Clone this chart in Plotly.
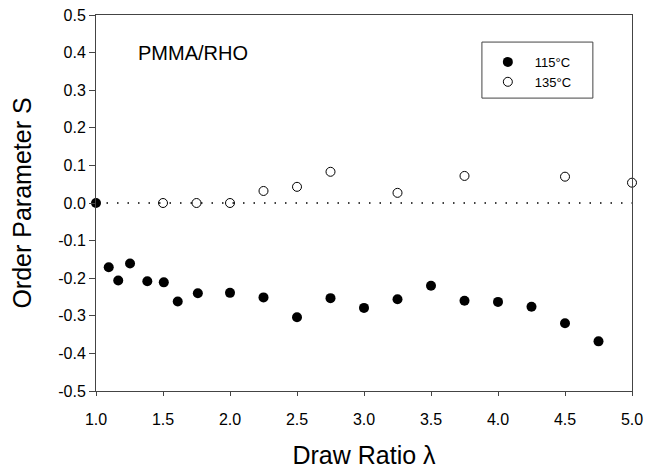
import plotly.graph_objects as go

# 115 °C series
draw_ratio_115 = [1.0, 1.095, 1.166, 1.254, 1.383, 1.506, 1.61, 1.76, 2.0, 2.25, 2.5,
                  2.75, 3.0, 3.25, 3.5, 3.75, 4.0, 4.25, 4.5, 4.75]
order_115 = [0.0, -0.171, -0.206, -0.161, -0.208, -0.211, -0.262, -0.240, -0.239, -0.251,
             -0.304, -0.253, -0.279, -0.256, -0.220, -0.260, -0.263, -0.276, -0.320, -0.368]

# 135 °C series
draw_ratio_135 = [1.5, 1.75, 2.0, 2.25, 2.5, 2.75, 3.25, 3.75, 4.5, 5.0]
order_135 = [0.0, 0.0, 0.0, 0.032, 0.043, 0.083, 0.027, 0.072, 0.070, 0.054]

# zero reference line
zero_x = [1.0, 5.0]
zero_y = [0.0, 0.0]

x_ticks = [1.0, 1.5, 2.0, 2.5, 3.0, 3.5, 4.0, 4.5, 5.0]
y_ticks = [0.5, 0.4, 0.3, 0.2, 0.1, 0.0, -0.1, -0.2, -0.3, -0.4, -0.5]

FONT = "Liberation Sans, Arial, sans-serif"

fig = go.Figure()
fig.add_trace(go.Scatter(x=zero_x, y=zero_y, mode="lines", showlegend=False,
                         line=dict(color="black", width=1.5, dash="1.5px,9px"),
                         hoverinfo="skip"))
fig.add_trace(go.Scatter(x=draw_ratio_115, y=order_115, mode="markers", name="115°C",
                         marker=dict(symbol="circle", size=10, color="black"),
                         cliponaxis=False))
fig.add_trace(go.Scatter(x=draw_ratio_135, y=order_135, mode="markers", name="135°C",
                         marker=dict(symbol="circle-open", size=9, color="black",
                                     line=dict(width=1)),
                         cliponaxis=False))

fig.add_annotation(x=1.30, y=0.40, xref="x", yref="y", text="PMMA/RHO",
                   showarrow=False, xanchor="left", yanchor="middle",
                   font=dict(family=FONT, size=20, color="black"))

# legend frame
fig.add_shape(type="rect", xref="paper", yref="paper", x0=0.720, x1=0.927,
              y0=0.779, y1=0.928, line=dict(color="#444", width=1), fillcolor="white",
              layer="below")

axis_common = dict(showline=True, mirror=True, linecolor="#444", linewidth=1,
                   ticks="outside", tickcolor="#444", showgrid=False, zeroline=False,
                   ticklabeloverflow="allow")

fig.update_layout(
    width=645, height=469,
    margin=dict(l=96, r=13, t=15, b=78, autoexpand=False),
    paper_bgcolor="white", plot_bgcolor="white",
    font=dict(family=FONT, color="black"),
    xaxis=dict(range=[1.0, 5.0], tickvals=x_ticks,
               ticktext=[f"{v:.1f}" for v in x_ticks], ticklen=4,
               tickfont=dict(family=FONT, size=16, color="black"),
               ticklabelstandoff=10,
               title=dict(text="Draw Ratio λ", font=dict(family=FONT, size=25), standoff=23),
               **axis_common),
    yaxis=dict(range=[-0.5, 0.5], tickvals=y_ticks,
               ticktext=[f"{v:.1f}" for v in y_ticks], ticklen=6,
               tickfont=dict(family=FONT, size=16, color="black"),
               title=dict(text="Order Parameter S", font=dict(family=FONT, size=25), standoff=19),
               **axis_common),
    legend=dict(x=0.718, y=0.915, xanchor="left", yanchor="top",
                borderwidth=0, bgcolor="rgba(0,0,0,0)",
                font=dict(family=FONT, size=13, color="black"),
                itemwidth=44),
)

fig.write_html("out.html", config={"displayModeBar": False},
               post_script="document.body.style.margin='0px';document.body.style.overflow='hidden';")
